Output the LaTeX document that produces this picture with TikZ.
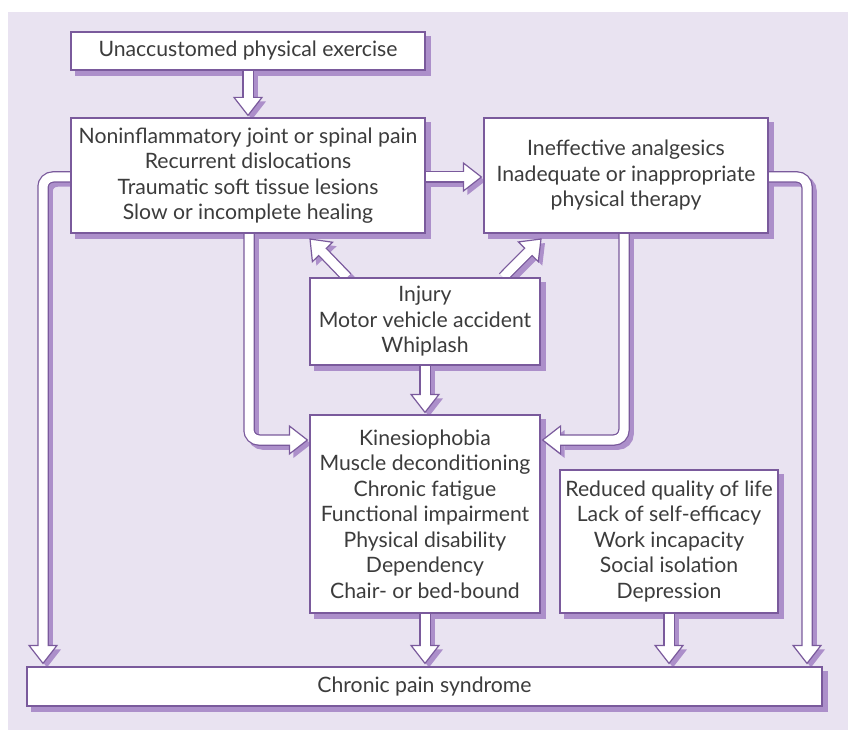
\documentclass[tikz,border=0pt]{standalone}
\usepackage{fontspec}
\setmainfont{Lato}
\usetikzlibrary{calc}
\definecolor{bgc}{HTML}{E9E3F1}
\definecolor{linec}{HTML}{7A5A9C}
\definecolor{shadc}{HTML}{AC8FCA}
\definecolor{txtc}{HTML}{3C3C3C}
\pgfdeclarelayer{bgl}\pgfdeclarelayer{shad}\pgfdeclarelayer{arr}
\pgfsetlayers{bgl,shad,arr,main}
\tikzset{
  box/.style={draw=linec, line width=1.2pt, fill=white, text=txtc, align=center,
    inner sep=0pt, font=\fontsize{21.2}{25.5}\selectfont},
}
\newcommand\boxshadow[1]{%
  \begin{pgfonlayer}{shad}
    \fill[shadc] ($(#1.south west)+(5,5)$) rectangle ($(#1.north east)+(5,5)$);
  \end{pgfonlayer}}
\newcommand\hollow[3]{%
  \path ($(#3)!18pt!(#2)$) coordinate (hh) ($(#3)!15pt!(#2)$) coordinate (hi);
  \path ($(hh)!14pt!90:(#3)$) coordinate (hl) ($(hh)!14pt!-90:(#3)$) coordinate (hr);
  \begin{pgfonlayer}{shad}
    \begin{scope}[transform canvas={shift={(4,4)}}]
      \draw[shadc, line width=11.5pt, rounded corners=10pt] #1 -- (hh);
      \fill[shadc] (#3) -- (hl) -- (hr) -- cycle;
    \end{scope}
  \end{pgfonlayer}
  \begin{pgfonlayer}{arr}
    \draw[linec, line width=11.5pt, rounded corners=10pt] #1 -- (hh);
    \filldraw[fill=white, draw=linec, line width=1.2pt, line join=miter] (#3) -- (hl) -- (hr) -- cycle;
    \draw[white, line width=9pt, rounded corners=10pt] #1 -- (hi);
  \end{pgfonlayer}}
\begin{document}
\begin{tikzpicture}[x=1pt, y=-1pt]
\useasboundingbox (0,0) rectangle (848,730);
\begin{pgfonlayer}{bgl}
  \fill[bgc] (8,12) rectangle (848,730);
\end{pgfonlayer}

\node[box, minimum width=354, minimum height=38] (top) at (248,51) {Unaccustomed physical exercise};
\node[box, minimum width=354, minimum height=115] (noninf) at (248,175.5)
  {Noninflammatory joint or spinal pain\\Recurrent dislocations\\Traumatic soft tissue lesions\\Slow or incomplete healing};
\node[box, minimum width=284, minimum height=115] (ineff) at (626,175.5)
  {Ineffective analgesics\\Inadequate or inappropriate\\physical therapy};
\node[box, minimum width=230, minimum height=87] (injury) at (425,321.5)
  {Injury\\Motor vehicle accident\\Whiplash};
\node[box, minimum width=230, minimum height=198] (kines) at (425,514)
  {Kinesiophobia\\Muscle deconditioning\\Chronic fatigue\\Functional impairment\\Physical disability\\Dependency\\Chair- or bed-bound};
\node[box, minimum width=218, minimum height=143] (reduced) at (669,541.5)
  {Reduced quality of life\\Lack of self-efficacy\\Work incapacity\\Social isolation\\Depression};
\node[box, minimum width=795, minimum height=39] (chronic) at (424.5,686.5) {Chronic pain syndrome};

\foreach \b in {top,noninf,ineff,injury,kines,reduced,chronic}{\boxshadow{\b}}

\coordinate (r1) at (0,177);
\coordinate (lc) at (43,0);
\coordinate (rc) at (807,0);
\coordinate (lv) at (249,440);
\coordinate (rv) at (624,440);
\coordinate (d1) at (347,0);
\coordinate (d2) at (503,0);

% top -> noninf
\coordinate (t1) at ($(noninf.north)+(0,-2)$);
\hollow{(top.south)}{top.south}{t1}
% noninf -> ineff
\coordinate (t2) at ($(ineff.west |- r1)+(-2,0)$);
\hollow{(noninf.east |- r1)}{noninf.east |- r1}{t2}
% noninf -> chronic (left channel)
\coordinate (t3) at ($(lc |- chronic.north)+(0,-3)$);
\coordinate (c3) at (lc |- r1);
\hollow{(noninf.west |- r1) -- (c3)}{c3}{t3}
% ineff -> chronic (right channel)
\coordinate (t4) at ($(rc |- chronic.north)+(0,-3)$);
\coordinate (c4) at (rc |- r1);
\hollow{(ineff.east |- r1) -- (c4)}{c4}{t4}
% noninf -> kines
\coordinate (t5) at ($(kines.west |- lv)+(-2,0)$);
\hollow{(lv |- noninf.south) -- (lv)}{lv}{t5}
% ineff -> kines
\coordinate (t6) at ($(kines.east |- rv)+(2,0)$);
\hollow{(rv |- ineff.south) -- (rv)}{rv}{t6}
% injury -> noninf / ineff
\coordinate (s7) at (d1 |- injury.north);
\coordinate (t7) at (310,239);
\hollow{(s7)}{s7}{t7}
\coordinate (s8) at (d2 |- injury.north);
\coordinate (t8) at (541,239);
\hollow{(s8)}{s8}{t8}
% injury -> kines
\coordinate (t9) at ($(kines.north)+(0,-2)$);
\hollow{(injury.south)}{injury.south}{t9}
% kines -> chronic
\coordinate (t10) at ($(kines.south |- chronic.north)+(0,-3)$);
\hollow{(kines.south)}{kines.south}{t10}
% reduced -> chronic
\coordinate (t11) at ($(reduced.south |- chronic.north)+(0,-3)$);
\hollow{(reduced.south)}{reduced.south}{t11}
\end{tikzpicture}
\end{document}
